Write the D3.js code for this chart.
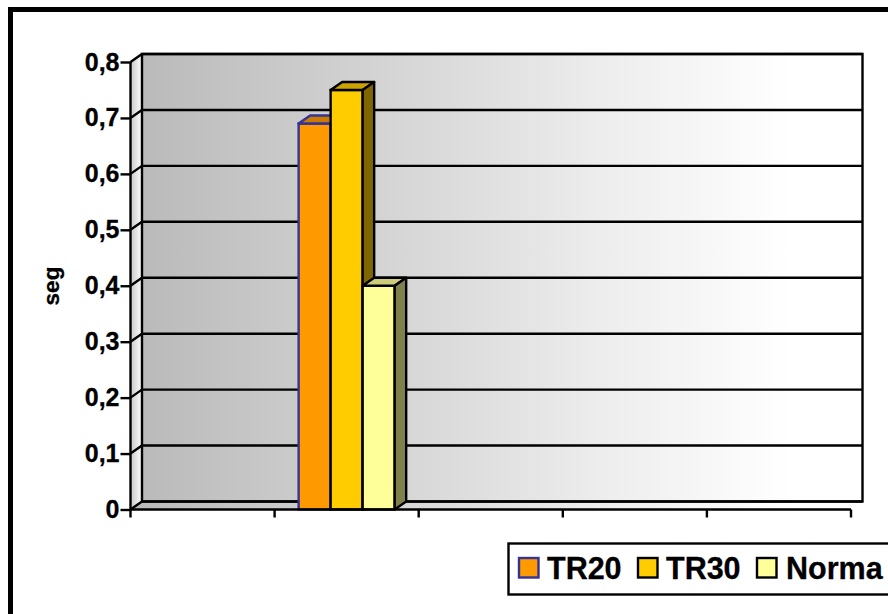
<!DOCTYPE html>
<html>
<head>
<meta charset="utf-8">
<script src="https://cdn.jsdelivr.net/npm/d3@7"></script>
<style>
html,body{margin:0;padding:0;background:#fff;}
svg{display:block;}
text{font-family:"Liberation Sans",Arial,sans-serif;font-weight:bold;fill:#000;stroke:#000;stroke-width:0.3px;}
</style>
</head>
<body>
<svg id="chart" width="888" height="614"></svg>
<script>
// Chart content
const categories = ["1", "2", "3", "4", "5"];
const seriesNames = ["TR20", "TR30", "Norma"];
const tr20Values = [null, 0.69, null, null, null];
const tr30Values = [null, 0.75, null, null, null];
const normaValues = [null, 0.4, null, null, null];
const yTicks = [0, 0.1, 0.2, 0.3, 0.4, 0.5, 0.6, 0.7, 0.8];
const yAxisTitle = "seg";

// Series styling: front, top and side faces of each 3D column, plus the outline
const seriesStyles = [
  {front: "#ff9900", top: "#cc7a00", side: "#804d00", stroke: "#333399"},
  {front: "#ffcc00", top: "#cca300", side: "#806600", stroke: "#000000"},
  {front: "#ffff99", top: "#cccc7a", side: "#80804d", stroke: "#000000"}
];
const seriesValues = [tr20Values, tr30Values, normaValues];

const depthX = 11.5, depthY = 8;
const x = d3.scaleBand().domain(categories).range([130.5, 851]);
const y = d3.scaleLinear().domain([0, 0.8]).range([509.5, 62]);
const svg = d3.select("#chart");
const defs = svg.append("defs");

function addGradient(id, stops) {
  const g = defs.append("linearGradient").attr("id", id)
    .attr("x1", "0").attr("y1", "0").attr("x2", 1).attr("y2", 0);
  stops.forEach(s => g.append("stop").attr("offset", s[0]).attr("stop-color", s[1]));
}
const planeStops = [[0, "#bababa"], [0.36, "#d6d6d6"], [0.64, "#ededed"], [0.9, "#ffffff"], [1, "#ffffff"]];
addGradient("wallFill", planeStops);
addGradient("floorFill", planeStops);
addGradient("sideFill", [[0, "#c8c8c8"], [1, "#ffffff"]]);

// Outer frame, running off the right and bottom of the page
svg.append("path")
  .attr("d", "M10.5,620V9.5H895")
  .attr("fill", "none").attr("stroke", "#000").attr("stroke-width", 5);

const x0 = x.range()[0], x1 = x.range()[1];
const yBase = y(0), yMax = y(0.8);
const lineW = 2.4;

// Side wall
svg.append("path")
  .attr("d", `M${x0},${yBase}V${yMax}L${x0 + depthX},${yMax - depthY}V${yBase - depthY}Z`)
  .attr("fill", "url(#sideFill)");
// Floor
svg.append("path")
  .attr("d", `M${x0},${yBase}L${x0 + depthX},${yBase - depthY}H${x1 + depthX}L${x1},${yBase}Z`)
  .attr("fill", "url(#floorFill)");
// Back wall
svg.append("rect")
  .attr("x", x0 + depthX).attr("y", yMax - depthY)
  .attr("width", x1 - x0).attr("height", yBase - yMax)
  .attr("fill", "url(#wallFill)")
  .attr("stroke", "#000").attr("stroke-width", lineW);

// Gridlines across the back wall and the side wall
svg.append("g").selectAll("path").data(yTicks).join("path")
  .attr("d", d => `M${x0},${y(d)}L${x0 + depthX},${y(d) - depthY}H${x1 + depthX}`)
  .attr("fill", "none").attr("stroke", "#000").attr("stroke-width", lineW);

// Columns, one band per series inside each category
const inner = d3.scaleBand().domain(seriesNames).range([0, x.bandwidth()])
  .paddingInner(0).paddingOuter(0.75);
seriesNames.forEach((name, i) => {
  const st = seriesStyles[i];
  const g = svg.append("g").attr("class", "series-" + name);
  categories.forEach((c, j) => {
    const v = seriesValues[i][j];
    if (v == null) return;
    const l = x(c) + inner(name), w = inner.bandwidth(), r = l + w, t = y(v);
    g.append("rect").attr("x", l).attr("y", t).attr("width", w).attr("height", yBase - t)
      .attr("fill", st.front).attr("stroke", st.stroke).attr("stroke-width", lineW);
    g.append("path").attr("d", `M${l},${t}L${l + depthX},${t - depthY}H${r + depthX}L${r},${t}Z`)
      .attr("fill", st.top).attr("stroke", st.stroke).attr("stroke-width", lineW)
      .attr("stroke-linejoin", "round");
    g.append("path").attr("d", `M${r},${t}L${r + depthX},${t - depthY}V${yBase - depthY}L${r},${yBase}Z`)
      .attr("fill", st.side).attr("stroke", st.stroke).attr("stroke-width", lineW)
      .attr("stroke-linejoin", "round");
  });
});

// Value axis
const fmt = d => d === 0 ? "0" : d3.format(".1f")(d).replace(".", ",");
const yAxis = svg.append("g").attr("transform", `translate(${x0},0)`)
  .call(d3.axisLeft(y).tickValues(yTicks).tickFormat(fmt).tickSize(10).tickPadding(1));
yAxis.attr("font-family", null).attr("font-size", null);
yAxis.select(".domain").attr("stroke-width", lineW).attr("d", `M0,${yBase}V${yMax}`);
yAxis.selectAll(".tick line").attr("stroke-width", lineW);
yAxis.selectAll(".tick text").attr("font-size", 25);

// Category axis with tick marks only
const xAxis = svg.append("g").attr("transform", `translate(0,${yBase})`)
  .call(d3.axisBottom(x).tickValues([]).tickSizeOuter(0));
xAxis.select(".domain").attr("stroke-width", lineW).attr("d", `M${x0},0H${x1}`);
xAxis.selectAll(".boundary").data(d3.range(categories.length + 1)).join("line")
  .attr("class", "boundary")
  .attr("x1", d => x0 + d * x.step()).attr("x2", d => x0 + d * x.step())
  .attr("y1", 0).attr("y2", 8).attr("stroke", "#000").attr("stroke-width", lineW);

// Axis title
svg.append("text").attr("transform", "translate(59,286) rotate(-90)")
  .attr("text-anchor", "middle").attr("font-size", 22.5).text(yAxisTitle);

// Legend
const legend = svg.append("g");
legend.append("rect").attr("x", 508.5).attr("y", 543.5).attr("width", 400).attr("height", 51)
  .attr("fill", "#fff").attr("stroke", "#000").attr("stroke-width", 2.4);
const legendKeyX = [519, 638, 757], legendTextX = [547, 666, 786];
seriesNames.forEach((name, i) => {
  const st = seriesStyles[i];
  legend.append("rect").attr("x", legendKeyX[i]).attr("y", 558).attr("width", 19.5).attr("height", 19.5)
    .attr("fill", st.front).attr("stroke", st.stroke).attr("stroke-width", 2.4);
  legend.append("text").attr("x", legendTextX[i]).attr("y", 578.5).attr("font-size", 30.5).text(name);
});
</script>
</body>
</html>
